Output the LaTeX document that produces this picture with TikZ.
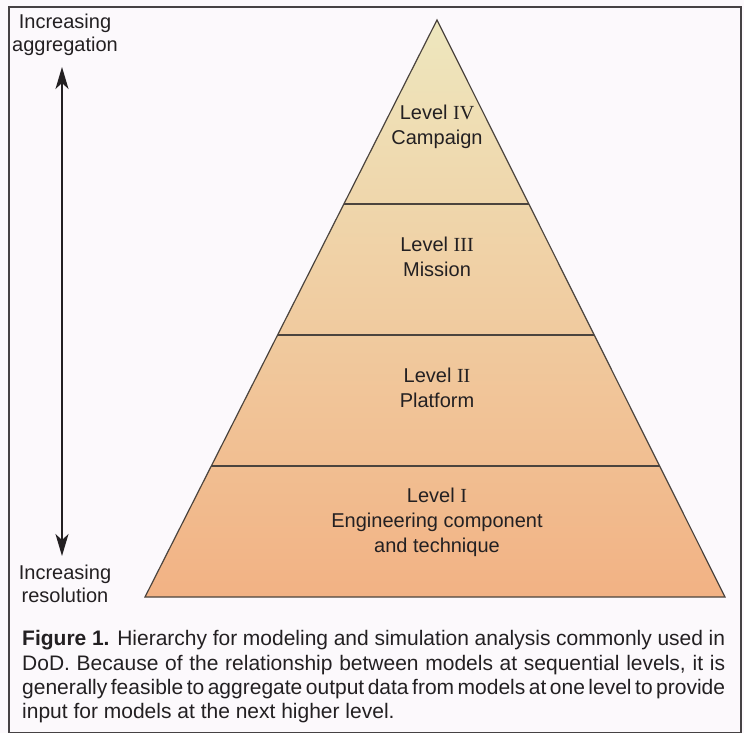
\documentclass[tikz,border=0pt]{standalone}
\usepackage{fontspec}
\setmainfont{Liberation Sans}
\newfontfamily\numeralfont{Liberation Serif}
\usetikzlibrary{arrows.meta,calc}

\definecolor{paper}{RGB}{252,249,252}
\definecolor{framegray}{RGB}{70,66,68}
\definecolor{edgegray}{RGB}{75,68,62}
\definecolor{tiptop}{RGB}{238,231,190}
\definecolor{tipmid}{RGB}{243,214,170}
\definecolor{tipbase}{RGB}{242,178,132}
\definecolor{inkgray}{RGB}{35,32,34}

\tikzset{
  sidelabel/.style={align=center, font=\fontsize{20}{23.5}\selectfont, text=inkgray, inner sep=0pt},
  levellabel/.style={align=center, font=\fontsize{20}{25}\selectfont, text=inkgray, inner sep=0pt},
  bandline/.style={draw=edgegray, line width=1.1pt},
  scalearrow/.style={line width=1.5pt, draw=inkgray,
    {Stealth[length=22pt,width=13pt,inset=6pt]}-{Stealth[length=22pt,width=13pt,inset=6pt]}},
  captionline/.style={anchor=base west, inner sep=0pt, text=inkgray,
    font=\fontsize{21}{24}\selectfont}
}

% one caption line stretched or squeezed to the full measure
\newcommand{\capline}[1]{{\spaceskip=0.278em plus 1em minus 0.26em\makebox[703pt][s]{#1}}}

\begin{document}
\begin{tikzpicture}[x=1pt,y=-1pt]
  % page and frame
  \useasboundingbox (0,0) rectangle (744,733);
  \fill[paper] (0,0) rectangle (744,733);
  \draw[framegray, line width=1.6pt] (9,7) rectangle (741,733);

  % pyramid corners
  \coordinate (apex) at (437,20);
  \coordinate (bl) at (145,597);
  \coordinate (br) at (725,597);

  % band boundaries on the two slanted sides
  \coordinate (l3) at ($(apex)!0.3189!(bl)$);
  \coordinate (r3) at ($(apex)!0.3189!(br)$);
  \coordinate (l2) at ($(apex)!0.5459!(bl)$);
  \coordinate (r2) at ($(apex)!0.5459!(br)$);
  \coordinate (l1) at ($(apex)!0.7730!(bl)$);
  \coordinate (r1) at ($(apex)!0.7730!(br)$);

  % graded fill from pale yellow at the tip to salmon at the base
  \begin{scope}
    \clip (apex) -- (bl) -- (br) -- cycle;
    \shade[top color=tiptop, middle color=tipmid, bottom color=tipbase]
      (140,20) rectangle (730,597);
  \end{scope}
  \draw[edgegray, line width=1.2pt, line join=miter] (apex) -- (bl) -- (br) -- cycle;
  \draw[bandline] (l3) -- (r3);
  \draw[bandline] (l2) -- (r2);
  \draw[bandline] (l1) -- (r1);

  % level names
  \node[levellabel] (lv4) at (437,127) {Level {\numeralfont IV}\\Campaign};
  \node[levellabel] (lv3) at (437,257) {Level {\numeralfont III}\\Mission};
  \node[levellabel] (lv2) at (437,388) {Level {\numeralfont II}\\Platform};
  \node[levellabel] (lv1) at (437,522) {Level {\numeralfont I}\\Engineering component\\and technique};

  % aggregation / resolution scale
  \node[sidelabel] (agg) at (65,35) {Increasing\\aggregation};
  \node[sidelabel] (res) at (65,584) {Increasing\\resolution};
  \coordinate (arrtop) at (62,67);
  \coordinate (arrbot) at (62,556);
  \draw[scalearrow] (arrtop) -- (arrbot);

  % caption
  \node[captionline] (cap1) at (22,645) {\capline{\textbf{Figure 1.} Hierarchy for modeling and simulation analysis commonly used in}};
  \node[captionline] (cap2) at (22,670) {\capline{DoD. Because of the relationship between models at sequential levels, it is}};
  \node[captionline] (cap3) at (22,694) {\capline{generally feasible to aggregate output data from models at one level to provide}};
  \node[captionline] (cap4) at (22,718) {input for models at the next higher level.};
\end{tikzpicture}
\end{document}
